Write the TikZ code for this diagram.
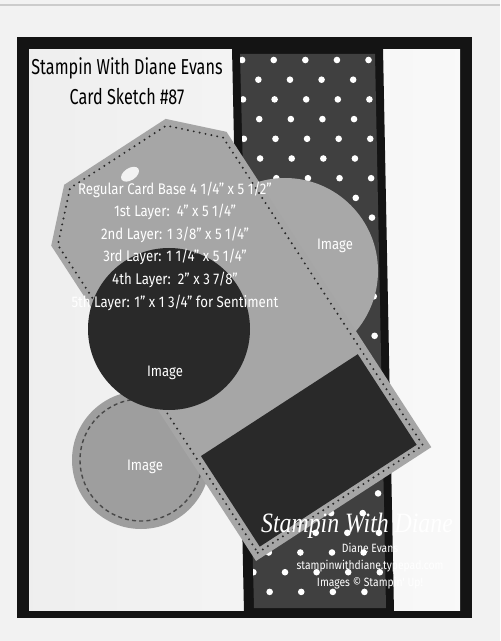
\documentclass[tikz,border=0pt]{standalone}
\usepackage{fontspec}
\setmainfont{Fira Sans}
\newfontfamily\titlefont[FakeStretch=0.75]{Fira Sans}
\newfontfamily\specfont[FakeStretch=0.86]{Fira Sans}
\newfontfamily\signfont[FakeStretch=0.85]{Liberation Serif}
\usetikzlibrary{positioning}
\definecolor{paperbg}{gray}{0.95}
\definecolor{cardblack}{gray}{0.08}
\definecolor{inkdark}{gray}{0.16}
\definecolor{dotpaper}{gray}{0.25}
\definecolor{tagcard}{gray}{0.65}
\definecolor{imgcircle}{gray}{0.62}
\definecolor{imgcircleb}{gray}{0.66}
\tikzset{
  stitch/.style={
    draw=inkdark,
    line width=1.1pt,
    line cap=round,
    dash pattern=on 0pt off 3pt
  },
  dashstitch/.style={
    draw=inkdark!85,
    line width=0.7pt,
    dash pattern=on 2pt off 1.6pt
  },
  titletext/.style={
    align=center,
    font=\titlefont\fontsize{10.8}{15}\selectfont
  },
  spectext/.style={
    align=center,
    text=white,
    font=\specfont\fontsize{7.7}{11.3}\selectfont
  },
  imglabel/.style={
    text=white,
    font=\specfont\fontsize{7.6}{9}\selectfont
  },
  credittext/.style={
    align=center,
    text=white,
    font=\specfont\fontsize{6}{8.4}\selectfont
  }
}

\begin{document}
\begin{tikzpicture}[x=0.5pt,y=-0.5pt]
\useasboundingbox (0,0) rectangle (500,641);
\fill[paperbg] (0,0) rectangle (500,641);
\draw[gray!40,line width=0.6pt] (0,5) -- (500,5);
% card base and 1st layer
\fill[cardblack] (17,37) rectangle (472,618);
\shade[left color=gray!13,right color=gray!5] (29,50) rectangle (460,610);
% 2nd and 3rd layer, the polka dot strip
\fill[cardblack] (232,48) -- (383,48) -- (394,613) -- (244,613) -- cycle;
\begin{scope}
  \clip (240,54) -- (375,54) -- (386,608) -- (254,608) -- cycle;
  \fill[dotpaper] (230,40) rectangle (400,620);
  \foreach \j in {0,...,28}
    \foreach \i in {-1,...,5} {
      \pgfmathsetmacro\yy{60+19.7*\j}
      \pgfmathsetmacro\xx{242+15.8*mod(\j,2)+31.6*\i+0.022*(\yy-54)}
      \fill[white] (\xx,\yy) circle (3.3);
    }
\end{scope}
% image circles under the tag
\fill[imgcircleb] (285,271) circle (93);
\fill[imgcircle] (141,460) circle (69);
\draw[dashstitch] (141,460) circle (61);
% 4th layer, the tag, and 5th layer
\begin{scope}[shift={(256,561)},rotate=33]
  \fill[tagcard] (0,0) -- (209,0) -- (209,-376) -- (165,-420)
    -- (44,-420) -- (0,-376) -- cycle;
  \draw[stitch] (6,-6) -- (203,-6) -- (203,-373) -- (162,-414)
    -- (47,-414) -- (6,-373) -- cycle;
  \fill[gray!10] (105,-393) ellipse (10 and 6);
  \fill[inkdark] (11,-10) rectangle (198,-118);
\end{scope}
\fill[inkdark] (169,329) circle (81);
% texts
\node[titletext] (title) at (127,81) {Stampin With Diane Evans\\Card Sketch \#87};
\node[spectext] (specs) at (175,246) {Regular Card Base 4 1/4” x 5 1/2”\\
  1st Layer:\ \ 4” x 5 1/4”\\
  2nd Layer: 1 3/8” x 5 1/4”\\
  3rd Layer: 1 1/4” x 5 1/4”\\
  4th Layer:\ \ 2” x 3 7/8”\\
  5th Layer: 1” x 1 3/4” for Sentiment};
\node[imglabel] (img1) at (165,373) {Image};
\node[imglabel] (img2) at (335,246) {Image};
\node[imglabel] (img3) at (145,467) {Image};
\node[text=white,font=\signfont\itshape\fontsize{14}{16}\selectfont] (sign) at (357,526) {Stampin With Diane};
\node[credittext] (credit) at (370,566) {Diane Evans\\stampinwithdiane.typepad.com\\Images © Stampin' Up!};
\end{tikzpicture}
\end{document}
